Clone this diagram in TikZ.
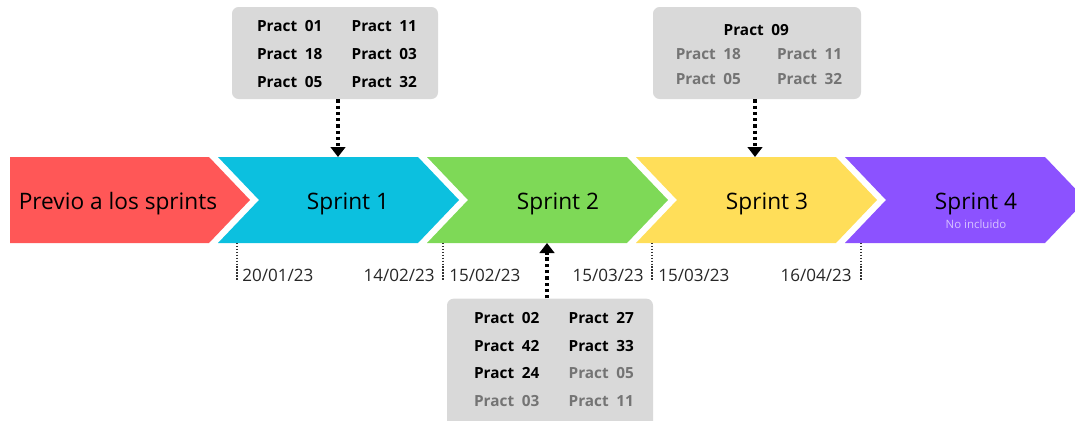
\documentclass[tikz,border=0pt]{standalone}
\usepackage{fontspec}
\setmainfont{Open Sans}
\usetikzlibrary{arrows.meta}

\definecolor{rojo}{HTML}{FF5757}
\definecolor{cian}{HTML}{0CC0DF}
\definecolor{verde}{HTML}{7ED957}
\definecolor{amarillo}{HTML}{FFDE59}
\definecolor{morado}{HTML}{8C52FF}
\definecolor{caja}{HTML}{D9D9D9}
\definecolor{apagado}{HTML}{747474}

\tikzset{
  caja/.style={fill=caja, rounded corners=5pt, inner sep=0pt},
  flecha/.style={line width=2.5pt, dash pattern=on 2.5pt off 2.2pt,
    -{Triangle[width=11pt,length=7.5pt]}},
  marca/.style={line width=1.1pt, dash pattern=on 1.1pt off 1.1pt, black!80},
  fecha/.style={font=\fontsize{12.8}{14}\selectfont, text=black!85, inner sep=0pt},
  etapa/.style={font=\fontsize{17}{20}\selectfont, inner sep=0pt, anchor=base}
}
\newcommand{\pr}[1]{\textbf{Pract\enspace#1}}

\begin{document}
\begin{tikzpicture}[x=0.75pt,y=-0.75pt]
      \useasboundingbox (0,0) rectangle (1075,421);
      \begin{scope}
      \clip (0,0) rectangle (1075,421);
      % etapas
      \fill[rojo] (10,157) -- (209,157) -- (250,200) -- (209,243) -- (10,243) -- cycle;
      \fill[cian] (218,157) -- (418,157) -- (459,200) -- (418,243) -- (218,243) -- (259,200) -- cycle;
      \fill[verde] (427,157) -- (627,157) -- (668,200) -- (627,243) -- (427,243) -- (468,200) -- cycle;
      \fill[amarillo] (636,157) -- (836,157) -- (877,200) -- (836,243) -- (636,243) -- (677,200) -- cycle;
      \fill[morado] (845,157) -- (1045,157) -- (1086,200) -- (1045,243) -- (845,243) -- (886,200) -- cycle;
      \node[etapa] (previo) at (118,209) {Previo a los sprints};
      \node[etapa] (s1) at (348,209) {Sprint 1};
      \node[etapa] (s2) at (558,209) {Sprint 2};
      \node[etapa] (s3) at (767,209) {Sprint 3};
      \node[etapa] (s4) at (976,209) {Sprint 4};
      \node[font=\fontsize{8.6}{10}\selectfont, text=morado!35!white, inner sep=0pt] (nota) at (976,224) {No incluido};

      % fechas
      \coordinate (m1) at (237,243);
      \coordinate (m2) at (443,243);
      \coordinate (m3) at (652,243);
      \coordinate (m4) at (861,243);
      \draw[marca] (m1) -- ++(0,38);
      \draw[marca] (m2) -- ++(0,38);
      \draw[marca] (m3) -- ++(0,38);
      \draw[marca] (m4) -- ++(0,38);
      \node[fecha, anchor=base west] (f1) at (242,281) {20/01/23};
      \node[fecha, anchor=base east] (f2) at (435,281) {14/02/23};
      \node[fecha, anchor=base west] (f3) at (449,281) {15/02/23};
      \node[fecha, anchor=base east] (f4) at (644,281) {15/03/23};
      \node[fecha, anchor=base west] (f5) at (658,281) {15/03/23};
      \node[fecha, anchor=base east] (f6) at (852,281) {16/04/23};

      % practicas
      \node[caja, minimum width=154.5pt, minimum height=69pt] (c1) at (335,53) {};
      \node[font=\fontsize{11.5}{21}\selectfont] at (337,54) {%
        \begin{tabular}{@{}l@{\hspace{22pt}}l@{}}
        \pr{01} & \pr{11}\\
        \pr{18} & \pr{03}\\
        \pr{05} & \pr{32}
        \end{tabular}};
      \node[caja, minimum width=156pt, minimum height=69pt] (c3) at (757,53) {};
      \node[font=\fontsize{11.5}{18.4}\selectfont] at (759,55) {%
        \begin{tabular}{@{}l@{\hspace{27pt}}l@{}}
        \multicolumn{2}{c}{\hspace{-4pt}\pr{09}}\\
        \color{apagado}\pr{18} & \color{apagado}\pr{11}\\
        \color{apagado}\pr{05} & \color{apagado}\pr{32}
        \end{tabular}};
      \node[caja, minimum width=154.5pt, minimum height=98pt] (c2) at (550,364) {};
      \node[font=\fontsize{11.5}{20.8}\selectfont] at (554,359.5) {%
        \begin{tabular}{@{}l@{\hspace{22pt}}l@{}}
        \pr{02} & \pr{27}\\
        \pr{42} & \pr{33}\\
        \pr{24} & \color{apagado}\pr{05}\\
        \color{apagado}\pr{03} & \color{apagado}\pr{11}
        \end{tabular}};
      \end{scope}

      \coordinate (p1) at (338,157);
      \coordinate (p2) at (547,243);
      \coordinate (p3) at (755,157);
      \draw[flecha] (c1.south -| p1) -- (p1);
      \draw[flecha] (c2.north -| p2) -- (p2);
      \draw[flecha] (c3.south -| p3) -- (p3);
    \end{tikzpicture}
\end{document}
